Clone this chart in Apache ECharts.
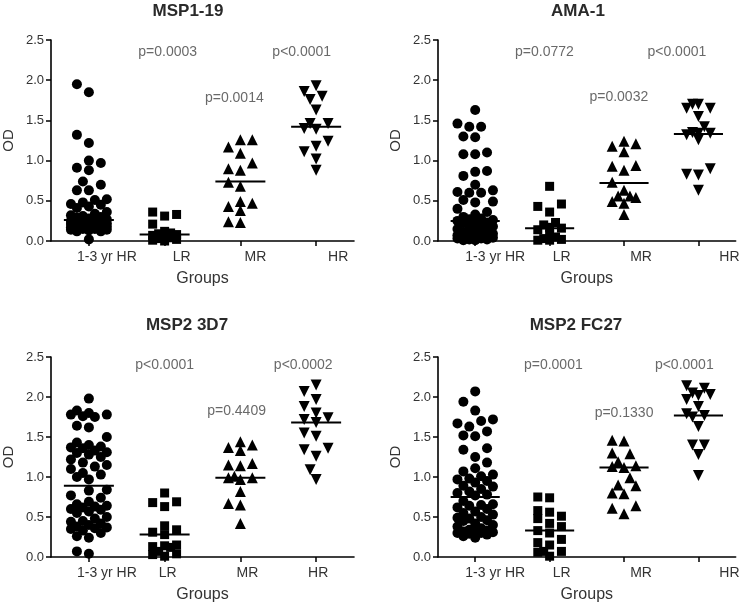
<!DOCTYPE html>
<html><head><meta charset="utf-8">
<script src="https://cdn.jsdelivr.net/npm/echarts@6/dist/echarts.min.js"></script>
<style>html,body{margin:0;padding:0;background:#fff}#c{width:742px;height:606px}</style>
</head><body><div id="c"></div>
<script>
// ---------- DATA ----------
const groups = ['1-3 yr HR', 'LR', 'MR', 'HR'];
const yTickValues = [0, 0.5, 1.0, 1.5, 2.0, 2.5];
const titles = ['MSP1-19', 'AMA-1', 'MSP2 3D7', 'MSP2 FC27'];

// MSP1-19
const msp119_yrHR = [1.95,1.85,1.32,1.22,1.00,0.97,0.91,0.88,0.74,0.70,0.63,0.63,0.52,0.51,0.48,0.46,0.45,0.43,0.41,0.36,0.34,0.32,0.31,0.30,0.29,0.28,0.27,
  0.26,0.25,0.25,0.24,0.23,0.23,0.22,0.22,0.21,0.21,0.20,0.20,0.19,0.19,0.18,0.18,0.17,0.17,0.16,0.16,0.15,0.15,0.14,0.14,0.13,0.12,0.12,0.02];
const msp119_LR = [0.36,0.33,0.31,0.21,0.12,0.10,0.09,0.08,0.07,0.05,0.04,0.03,0.02,0.01,0.00];
const msp119_MR = [1.26,1.26,1.17,1.09,0.97,0.90,0.88,0.73,0.68,0.49,0.47,0.43,0.38,0.24,0.23];
const msp119_HR = [1.93,1.86,1.80,1.76,1.63,1.46,1.46,1.40,1.39,1.24,1.18,1.11,1.02,0.88];
const msp119_medians = [0.26, 0.08, 0.74, 1.42];
const msp119_p = ['p=0.0003', 'p=0.0014', 'p<0.0001'];

// AMA-1
const ama1_yrHR = [1.63,1.46,1.42,1.42,1.30,1.29,1.10,1.08,1.08,0.87,0.86,0.81,0.70,0.63,0.61,0.60,0.60,0.51,0.49,0.48,0.40,0.36,0.33,0.30,0.28,0.27,0.26,
  0.25,0.24,0.23,0.22,0.20,0.19,0.18,0.16,0.15,0.14,0.12,0.11,0.10,0.09,0.08,0.07,0.06,0.06,0.05,0.05,0.04,0.04,0.03,0.03,0.02,0.02,0.01,0.01];
const ama1_LR = [0.68,0.46,0.43,0.36,0.23,0.20,0.17,0.16,0.14,0.08,0.05,0.03,0.02,0.01,0.01];
const ama1_MR = [1.24,1.21,1.18,1.11,0.94,0.93,0.88,0.73,0.63,0.56,0.56,0.54,0.49,0.47,0.33];
const ama1_HR = [1.70,1.70,1.65,1.65,1.55,1.42,1.35,1.34,1.34,1.32,1.26,0.90,0.83,0.82,0.63];
const ama1_medians = [0.25, 0.16, 0.72, 1.33];
const ama1_p = ['p=0.0772', 'p=0.0032', 'p<0.0001'];

// MSP2 3D7
const m3d7_yrHR = [1.98,1.83,1.80,1.78,1.78,1.76,1.75,1.64,1.62,1.50,1.43,1.40,1.38,1.37,1.36,1.33,1.31,1.30,1.28,1.25,1.22,1.18,1.15,1.13,1.10,1.05,1.03,1.00,0.97,
  0.84,0.83,0.77,0.74,0.69,0.66,0.64,0.63,0.62,0.60,0.59,0.57,0.55,0.50,0.48,0.45,0.44,0.42,0.40,0.38,0.37,0.36,0.35,0.33,0.30,0.26,0.24,0.07,0.04];
const m3d7_LR = [0.80,0.69,0.68,0.63,0.39,0.34,0.31,0.28,0.15,0.14,0.13,0.12,0.07,0.04,0.03,0.01];
const m3d7_MR = [1.44,1.40,1.37,1.33,1.17,1.15,1.14,1.01,0.99,0.99,0.97,0.82,0.67,0.65,0.42];
const m3d7_HR = [2.15,2.07,1.97,1.88,1.80,1.74,1.72,1.68,1.55,1.51,1.36,1.34,1.26,1.09,0.97];
const m3d7_medians = [0.89, 0.28, 0.99, 1.68];
const m3d7_p = ['p<0.0001', 'p=0.4409', 'p<0.0002'];

// MSP2 FC27
const fc27_yrHR = [2.07,1.94,1.83,1.72,1.70,1.67,1.63,1.57,1.52,1.51,1.36,1.34,1.25,1.18,1.11,1.07,1.03,1.01,0.98,0.97,0.95,0.93,0.89,0.88,0.85,0.82,0.80,0.78,0.77,
  0.70,0.66,0.65,0.64,0.62,0.60,0.57,0.55,0.53,0.50,0.49,0.48,0.46,0.45,0.42,0.40,0.38,0.36,0.34,0.33,0.32,0.31,0.31,0.30,0.30,0.29,0.28,0.26,0.24];
const fc27_LR = [0.75,0.74,0.58,0.56,0.51,0.48,0.42,0.38,0.33,0.30,0.22,0.18,0.15,0.07,0.07,0.06,0.01];
const fc27_MR = [1.46,1.45,1.30,1.29,1.19,1.14,1.13,1.12,0.99,0.90,0.89,0.80,0.79,0.64,0.61,0.54];
const fc27_HR = [2.14,2.11,2.05,2.03,2.02,1.97,1.88,1.79,1.77,1.75,1.63,1.40,1.40,1.28,1.02];
const fc27_medians = [0.75, 0.33, 1.12, 1.77];
const fc27_p = ['p=0.0001', 'p=0.1330', 'p<0.0001'];

// ---------- LAYOUT ----------
const panels = [
  {title: titles[0], groups: [msp119_yrHR, msp119_LR, msp119_MR, msp119_HR], medians: msp119_medians, p: msp119_p,
   grid: {left: 50, top: 40, width: 304, height: 201}, titleX: 188, titleY: 3,
   pY: [2.35, 1.78, 2.35], pDx: [0.04, -0.08, -0.19], labelShift: [18, 17, 15, 22]},
  {title: titles[1], groups: [ama1_yrHR, ama1_LR, ama1_MR, ama1_HR], medians: ama1_medians, p: ama1_p,
   grid: {left: 438, top: 40, width: 302, height: 201}, titleX: 578, titleY: 3,
   pY: [2.35, 1.79, 2.35], pDx: [-0.07, -0.07, -0.29], labelShift: [20, 12, 17, 31]},
  {title: titles[2], groups: [m3d7_yrHR, m3d7_LR, m3d7_MR, m3d7_HR], medians: m3d7_medians, p: m3d7_p,
   grid: {left: 50, top: 357, width: 304, height: 200}, titleX: 187, titleY: 317,
   pY: [2.40, 1.82, 2.40], pDx: [0.0, -0.05, -0.17], labelShift: [18, 3, 7, 2]},
  {title: titles[3], groups: [fc27_yrHR, fc27_LR, fc27_MR, fc27_HR], medians: fc27_medians, p: fc27_p,
   grid: {left: 438, top: 357, width: 302, height: 200}, titleX: 576, titleY: 317,
   pY: [2.40, 1.80, 2.40], pDx: [0.05, 0.0, -0.19], labelShift: [20, 12, 17, 31]}
];

const symbols = [
  {symbol: 'circle', size: 10, rotate: 0},
  {symbol: 'rect', size: 9, rotate: 0},
  {symbol: 'triangle', size: 11, rotate: 0},
  {symbol: 'triangle', size: 11, rotate: 180}
];
const maxOffsetPx = [18, 15, 12, 12];
const FONT = "'Liberation Sans', Arial, sans-serif";
const TXT = '#333';

// deterministic beeswarm: spread points with similar values sideways
function swarm(values, pxX, pxY, maxOff, step, d) {
  const idx = values.map((v, i) => i).sort((a, b) => values[a] - values[b]);
  const cands = [0];
  for (let k = 1; k * step <= maxOff + 0.01; k++) cands.push(-k * step, k * step);
  const placed = [], offs = new Array(values.length);
  idx.forEach(i => {
    const y = values[i] * pxY;
    let best = 0, bestD = -1;
    for (const c of cands) {
      let md = Infinity;
      for (const p of placed) { const dd = Math.hypot(p[0] - c, p[1] - y); if (dd < md) md = dd; }
      if (md >= d) { best = c; break; }
      if (md > bestD) { bestD = md; best = c; }
    }
    placed.push([best, y]);
    offs[i] = best / pxX;
  });
  return offs;
}

const option = {animation: false, backgroundColor: '#fff', title: [], grid: [], xAxis: [], yAxis: [], series: []};

panels.forEach((P, pi) => {
  option.grid.push(Object.assign({containLabel: false}, P.grid));
  option.title.push({text: P.title, left: P.titleX, top: P.titleY, textAlign: 'center', padding: 0,
    textStyle: {fontFamily: FONT, fontSize: 17, fontWeight: 'bold', color: '#2a2a2a'}});
  option.xAxis.push({
    type: 'category', gridIndex: pi, boundaryGap: true,
    data: groups.map((g, k) => ({value: g, textStyle: {padding: [0, 0, 0, 2 * P.labelShift[k]]}})),
    name: 'Groups', nameLocation: 'middle', nameGap: 30,
    nameTextStyle: {fontFamily: FONT, fontSize: 16, color: TXT},
    axisLine: {show: true, lineStyle: {color: '#000', width: 1.6}},
    axisTick: {show: true, alignWithLabel: true, length: 5, lineStyle: {color: '#000', width: 1.5}},
    axisLabel: {interval: 0, margin: 9, fontFamily: FONT, fontSize: 14, color: TXT},
    splitLine: {show: false}
  });
  option.xAxis.push({type: 'value', gridIndex: pi, min: 0, max: 4, show: false, splitLine: {show: false}});
  option.yAxis.push({
    type: 'value', gridIndex: pi, min: 0, max: 2.5, interval: 0.5,
    name: 'OD', nameLocation: 'middle', nameGap: 35, nameRotate: 90,
    nameTextStyle: {fontFamily: FONT, fontSize: 15, color: TXT},
    axisLine: {show: true, lineStyle: {color: '#000', width: 1.6}},
    axisTick: {show: true, length: 5, lineStyle: {color: '#000', width: 1.5}},
    axisLabel: {margin: 7, fontFamily: FONT, fontSize: 13, color: TXT, formatter: v => v.toFixed(1)},
    splitLine: {show: false}
  });
  const pxX = P.grid.width / 4, pxY = P.grid.height / 2.5;
  const xIdx = pi * 2 + 1;
  P.groups.forEach((vals, g) => {
    const offs = swarm(vals, pxX, pxY, maxOffsetPx[g], 6, 11);
    const s = symbols[g];
    option.series.push({
      type: 'scatter', xAxisIndex: xIdx, yAxisIndex: pi,
      symbol: s.symbol, symbolSize: s.size, symbolRotate: s.rotate,
      itemStyle: {color: '#000', opacity: 1},
      data: vals.map((v, i) => [g + 0.5 + offs[i], v]), z: 3
    });
    const m = P.medians[g];
    option.series.push({
      type: 'line', xAxisIndex: xIdx, yAxisIndex: pi, symbol: 'none',
      lineStyle: {color: '#000', width: 2}, z: 4,
      data: [[g + 0.5 - 0.33, m], [g + 0.5 + 0.33, m]]
    });
  });
  option.series.push({
    type: 'scatter', xAxisIndex: xIdx, yAxisIndex: pi, symbolSize: 0, silent: true,
    label: {show: true, position: 'inside', formatter: '{b}', fontFamily: FONT, fontSize: 14, color: '#444'},
    data: P.p.map((t, k) => ({name: t, value: [k + 1.5 + P.pDx[k], P.pY[k]]}))
  });
});

const chart = echarts.init(document.getElementById('c'), null, {renderer: 'canvas'});
chart.setOption(option);
</script>
</body></html>
